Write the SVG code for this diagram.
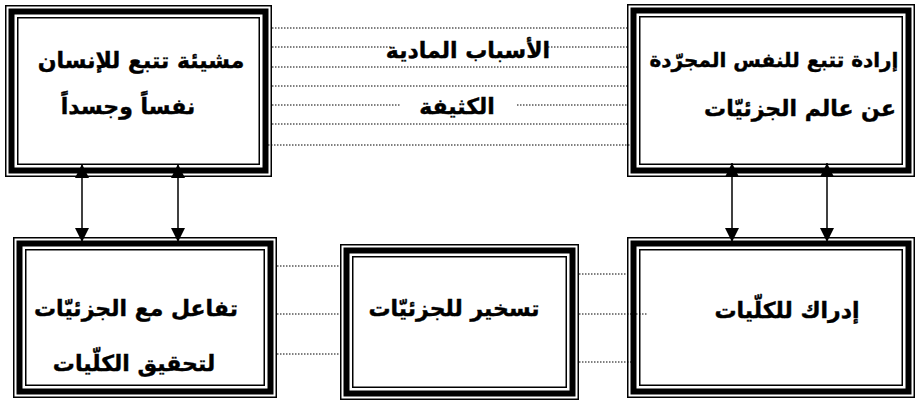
<svg xmlns="http://www.w3.org/2000/svg" width="917" height="403" viewBox="0 0 917 403">
<style>
.o{fill:none;stroke:#000;stroke-width:1.5}
.t{fill:none;stroke:#000;stroke-width:6}
.dot{stroke:#000;stroke-width:1;stroke-dasharray:1.5 1.5;fill:none}
.arr{stroke:#000;stroke-width:1.5;fill:none;marker-start:url(#ah);marker-end:url(#ah)}
text{font-family:"DejaVu Sans",sans-serif;font-weight:bold;font-size:22px;fill:#000;stroke:#000;stroke-width:0.4;text-anchor:middle;direction:rtl}
.s{font-size:20px}
</style>
<defs>
<marker id="ah" markerUnits="userSpaceOnUse" markerWidth="14" markerHeight="14" refX="14" refY="7" orient="auto-start-reverse" viewBox="0 0 14 14">
<path d="M0,0 L14,7 L0,14 Z" fill="#000"/>
</marker>
</defs>
<rect width="917" height="403" fill="#fff"/>
<g id="n1">
<rect class="o" x="5.75" y="5.75" width="265.5" height="170.5"/>
<rect class="t" x="11.5" y="11.5" width="254" height="159"/>
<rect class="o" x="17.75" y="17.75" width="241.5" height="146.5"/>
<text x="141" y="68">مشيئة تتبع للإنسان</text>
<text x="128" y="114">نفساً وجسداً</text>
</g>
<g id="n2">
<rect class="o" x="627.75" y="4.75" width="286.5" height="171.5"/>
<rect class="t" x="633.5" y="10.5" width="275" height="160"/>
<rect class="o" x="639.75" y="16.75" width="262.5" height="147.5"/>
<text class="s" x="774" y="67">إرادة تتبع للنفس المجرّدة</text>
<text x="800" y="116">عن عالم الجزئيّات</text>
</g>
<g id="n3">
<rect class="o" x="13.75" y="237.75" width="262.5" height="159.5"/>
<rect class="t" x="19.5" y="243.5" width="251" height="148"/>
<rect class="o" x="25.75" y="249.75" width="238.5" height="135.5"/>
<text x="136" y="316">تفاعل مع الجزئيّات</text>
<text x="134" y="371">لتحقيق الكلّيات</text>
</g>
<g id="n4">
<rect class="o" x="340.75" y="244.75" width="237.5" height="154.5"/>
<rect class="t" x="346.5" y="250.5" width="226" height="143"/>
<rect class="o" x="352.75" y="256.75" width="213.5" height="130.5"/>
<text x="454" y="316">تسخير للجزئيّات</text>
</g>
<g id="n5">
<rect class="o" x="627.75" y="237.75" width="286.5" height="159.5"/>
<rect class="t" x="633.5" y="243.5" width="275" height="148"/>
<rect class="o" x="639.75" y="249.75" width="262.5" height="135.5"/>
<text x="787" y="318">إدراك للكلّيات</text>
</g>
<g id="connectors">
<line class="dot" x1="272" y1="28" x2="627" y2="28"/>
<line class="dot" x1="272" y1="47" x2="392" y2="47"/>
<line class="dot" x1="545" y1="47" x2="627" y2="47"/>
<line class="dot" x1="272" y1="67" x2="627" y2="67"/>
<line class="dot" x1="272" y1="86" x2="627" y2="86"/>
<line class="dot" x1="272" y1="105" x2="400" y2="105"/>
<line class="dot" x1="517" y1="105" x2="627" y2="105"/>
<line class="dot" x1="272" y1="124" x2="627" y2="124"/>
<line class="dot" x1="268" y1="145" x2="630" y2="145"/>
<line class="dot" x1="277" y1="266" x2="340" y2="266"/>
<line class="dot" x1="277" y1="314" x2="340" y2="314"/>
<line class="dot" x1="277" y1="354" x2="340" y2="354"/>
<line class="dot" x1="579" y1="274" x2="627" y2="274"/>
<line class="dot" x1="579" y1="314" x2="648" y2="314"/>
<line class="dot" x1="579" y1="362" x2="632" y2="362"/>
<line class="arr" x1="82" y1="164" x2="82" y2="242"/>
<line class="arr" x1="178" y1="164" x2="178" y2="242"/>
<line class="arr" x1="732" y1="163" x2="732" y2="242"/>
<line class="arr" x1="827" y1="163" x2="827" y2="242"/>
</g>
<g id="labels">
<text x="468" y="58">الأسباب المادية</text>
<text x="457" y="114">الكثيفة</text>
</g>
</svg>
